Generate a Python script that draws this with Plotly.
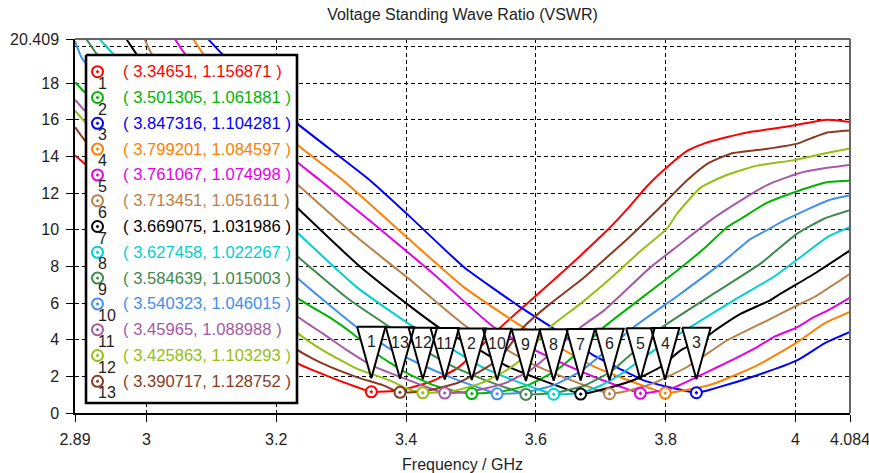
import plotly.graph_objects as go

# ---------------- axes ----------------
FREQ_TICKS = [2.89, 3, 3.2, 3.4, 3.6, 3.8, 4, 4.084]
FREQ_TICK_TEXT = ["2.89", "3", "3.2", "3.4", "3.6", "3.8", "4", "4.084"]
VSWR_TICKS = [0, 2, 4, 6, 8, 10, 12, 14, 16, 18, 20.409]
VSWR_TICK_TEXT = ["0", "2", "4", "6", "8", "10", "12", "14", "16", "18", "20.409"]
X_RANGE = [2.89, 4.084]
Y_RANGE = [0, 20.409]

# ---------------- markers (VSWR minimum of each sweep) ----------------
marker_ids = ["1", "2", "3", "4", "5", "6", "7", "8", "9", "10", "11", "12", "13"]
min_freq = [3.34651, 3.501305, 3.847316, 3.799201, 3.761067, 3.713451, 3.669075,
            3.627458, 3.584639, 3.540323, 3.45965, 3.425863, 3.390717]
min_vswr = [1.156871, 1.061881, 1.104281, 1.084597, 1.074998, 1.051611, 1.031986,
            1.022267, 1.015003, 1.046015, 1.088988, 1.103293, 1.128752]
colors = ["#ff0000", "#00b400", "#0000ff", "#ff8000", "#e600e6", "#b9804a", "#000000",
          "#00d0d0", "#3f8a4d", "#4090f0", "#a55aa5", "#94c010", "#8b3a20"]

# ---------------- sweep curves (minimum point added from the marker lists) ----------------
freq_1 = [2.89, 2.905, 3.0, 3.1, 3.2, 3.234, 3.283, 3.324, 3.39, 3.437, 3.478, 3.50, 3.54, 3.581,
          3.627, 3.669, 3.71, 3.74, 3.772, 3.805, 3.833, 3.859, 3.895, 3.926, 3.967, 4.003, 4.049, 4.084]
vswr_1 = [14.05, 13.6, 10.45, 7.1, 3.8, 2.69, 1.96, 1.42, 1.24, 1.69, 2.42, 3.1, 4.5, 5.8,
          7.24, 8.6, 9.97, 11.1, 12.4, 13.5, 14.3, 14.7, 15.06, 15.31, 15.52, 15.73, 16.0, 15.88]

freq_2 = [2.89, 2.905, 3.0, 3.1, 3.2, 3.234, 3.283, 3.319, 3.36, 3.40, 3.44, 3.475, 3.545, 3.59,
          3.63, 3.655, 3.705, 3.76, 3.818, 3.86, 3.895, 3.916, 3.955, 4.003, 4.05, 4.084]
vswr_2 = [18.05, 17.5, 14.25, 10.8, 7.4, 6.24, 5.2, 4.3, 3.1, 2.2, 1.55, 1.2, 1.15, 1.55,
          2.3, 3.0, 4.69, 6.2, 7.78, 9.0, 10.15, 10.6, 11.45, 12.1, 12.6, 12.68]

freq_3 = [3.06, 3.095, 3.116, 3.2, 3.234, 3.3447, 3.401, 3.489, 3.576, 3.62, 3.689, 3.73, 3.766,
          3.80, 3.825, 3.874, 3.941, 4.003, 4.044, 4.084]
vswr_3 = [21.6, 20.4, 19.62, 16.85, 15.75, 12.69, 10.88, 7.97, 5.78, 4.78, 3.15, 2.4, 1.78,
          1.45, 1.25, 1.33, 2.06, 2.88, 3.79, 4.42]

freq_4 = [3.04, 3.072, 3.087, 3.2, 3.234, 3.3034, 3.401, 3.489, 3.576, 3.64, 3.686, 3.735, 3.777,
          3.823, 3.874, 3.941, 4.003, 4.044, 4.084]
vswr_4 = [21.5, 20.4, 19.62, 15.76, 14.6, 12.69, 9.6, 6.87, 4.78, 3.5, 2.6, 1.88, 1.34,
          1.2, 1.6, 2.6, 3.87, 4.88, 5.51]

freq_5 = [3.01, 3.0437, 3.059, 3.2, 3.234, 3.268, 3.35, 3.442, 3.535, 3.60, 3.648, 3.697, 3.739,
          3.808, 3.88, 3.941, 3.967, 4.003, 4.029, 4.05, 4.084]
vswr_5 = [21.5, 20.4, 19.62, 14.8, 13.64, 12.69, 10.33, 7.6, 4.69, 3.4, 2.6, 1.87, 1.33,
          1.33, 2.51, 3.6, 4.15, 4.69, 5.24, 5.6, 6.3]

freq_6 = [2.96, 2.997, 3.0077, 3.1, 3.2, 3.2315, 3.324, 3.401, 3.494, 3.555, 3.60, 3.65, 3.691,
          3.74, 3.779, 3.833, 3.895, 3.957, 4.003, 4.029, 4.084]
vswr_6 = [21.7, 20.4, 19.62, 16.7, 13.5, 12.51, 9.6, 7.42, 4.69, 3.45, 2.58, 1.85, 1.31,
          1.2, 1.6, 2.51, 3.97, 5.06, 5.88, 6.33, 7.6]

freq_7 = [2.93, 2.969, 2.9846, 3.1, 3.2, 3.234, 3.324, 3.401, 3.45, 3.51, 3.556, 3.605, 3.647,
          3.71, 3.756, 3.792, 3.823, 3.859, 3.88, 3.916, 3.961, 3.977, 4.029, 4.084]
vswr_7 = [21.7, 20.4, 19.6, 15.7, 12.3, 11.15, 8.15, 5.97, 4.69, 3.5, 2.55, 1.85, 1.3,
          1.35, 1.87, 2.51, 3.42, 4.06, 4.6, 5.42, 6.15, 6.51, 7.6, 8.87]

freq_8 = [2.89, 2.928, 2.948, 3.1, 3.2, 3.234, 3.324, 3.412, 3.47, 3.515, 3.563, 3.605,
          3.67, 3.70, 3.73, 3.782, 3.813, 3.838, 3.905, 3.966, 4.008, 4.049, 4.084]
vswr_8 = [21.7, 20.4, 19.62, 14.4, 10.95, 9.79, 6.87, 4.69, 3.5, 2.55, 1.82, 1.28,
          1.1, 1.5, 2.1, 3.42, 4.15, 4.69, 6.15, 7.42, 8.51, 9.6, 10.15]

freq_9 = [2.89, 2.9074, 2.9229, 3.1, 3.2, 3.234, 3.314, 3.375, 3.425, 3.472, 3.52, 3.562,
          3.63, 3.675, 3.715, 3.74, 3.795, 3.874, 3.946, 4.003, 4.044, 4.084]
vswr_9 = [21.0, 20.4, 19.62, 13.3, 9.7, 8.51, 6.15, 4.69, 3.5, 2.54, 1.82, 1.28,
          1.1, 1.5, 2.25, 3.0, 4.69, 6.51, 8.15, 9.8, 10.6, 11.06]

freq_10 = [2.89, 2.9017, 3.0, 3.1, 3.2, 3.234, 3.324, 3.38, 3.427, 3.476, 3.518, 3.585, 3.63,
           3.67, 3.695, 3.751, 3.823, 3.885, 3.931, 3.957, 3.982, 4.018, 4.05, 4.084]
vswr_10 = [20.3, 19.3, 15.76, 12.2, 8.55, 7.33, 4.69, 3.4, 2.58, 1.85, 1.31, 1.13, 1.55,
           2.3, 3.0, 4.69, 6.51, 8.15, 9.5, 10.0, 10.5, 11.1, 11.6, 11.88]

freq_11 = [2.89, 2.905, 3.0, 3.1, 3.2, 3.234, 3.272, 3.31, 3.347, 3.396, 3.437, 3.50, 3.55,
           3.59, 3.615, 3.666, 3.705, 3.777, 3.82, 3.869, 3.916, 3.957, 4.003, 4.044, 4.084]
vswr_11 = [17.1, 16.5, 13.3, 9.9, 6.4, 5.24, 4.33, 3.4, 2.6, 1.9, 1.35, 1.17, 1.6,
           2.3, 3.0, 4.6, 5.6, 7.96, 9.15, 10.51, 11.6, 12.45, 13.06, 13.35, 13.53]

freq_12 = [2.89, 2.905, 3.0, 3.1, 3.2, 3.234, 3.272, 3.324, 3.375, 3.40, 3.47, 3.516, 3.556,
           3.58, 3.622, 3.669, 3.72, 3.76, 3.802, 3.818, 3.854, 3.895, 3.941, 3.998, 4.05, 4.084]
vswr_12 = [16.5, 15.9, 12.55, 9.0, 5.5, 4.33, 3.42, 2.42, 1.78, 1.35, 1.18, 1.63, 2.36,
           3.0, 4.69, 5.97, 7.5, 8.8, 10.06, 10.9, 12.3, 13.0, 13.5, 13.8, 14.2, 14.44]

freq_13 = [2.89, 2.905, 3.0, 3.1, 3.2, 3.234, 3.272, 3.324, 3.365, 3.43, 3.48, 3.52, 3.545,
           3.581, 3.62, 3.669, 3.70, 3.741, 3.756, 3.802, 3.833, 3.864, 3.90, 3.957, 4.003,
           4.029, 4.049, 4.084]
vswr_13 = [15.6, 14.88, 11.6, 8.1, 4.6, 3.42, 2.69, 1.96, 1.51, 1.2, 1.65, 2.4, 3.0,
           4.69, 5.9, 7.24, 8.2, 9.5, 10.0, 11.6, 12.7, 13.6, 14.15, 14.42, 14.7,
           15.06, 15.31, 15.42]

curves = [(freq_1, vswr_1), (freq_2, vswr_2), (freq_3, vswr_3), (freq_4, vswr_4),
          (freq_5, vswr_5), (freq_6, vswr_6), (freq_7, vswr_7), (freq_8, vswr_8),
          (freq_9, vswr_9), (freq_10, vswr_10), (freq_11, vswr_11), (freq_12, vswr_12),
          (freq_13, vswr_13)]

# ---------------- layout geometry (pixels) ----------------
W, H = 869, 473
M_L, M_R, M_T, M_B = 75, 19, 39, 60
PLOT_W = W - M_L - M_R
PLOT_H = H - M_T - M_B
PX_PER_GHZ = PLOT_W / (X_RANGE[1] - X_RANGE[0])
PX_PER_UNIT = PLOT_H / (Y_RANGE[1] - Y_RANGE[0])

FONT = "Liberation Sans, Arial, sans-serif"
TEXT_COL = "#1e1e1e"

fig = go.Figure()

# sweep curves
for i, (f, v) in enumerate(curves):
    pts = sorted(zip(f + [min_freq[i]], v + [min_vswr[i]]))
    fig.add_trace(go.Scatter(
        x=[p[0] for p in pts], y=[p[1] for p in pts], mode="lines",
        line=dict(color=colors[i], width=2, shape="spline", smoothing=0.5),
        hoverinfo="skip", showlegend=False))

# minimum markers on the curves
fig.add_trace(go.Scatter(
    x=min_freq, y=min_vswr, mode="markers",
    marker=dict(symbol="circle-dot", size=11, color="white",
                line=dict(color=colors, width=2)),
    hoverinfo="skip", showlegend=False))

# marker flags: downward triangles whose tip sits just above each minimum
TIP_GAP_PX, TRI_H_PX, TRI_HALF_W_PX = 13.5, 51.5, 14.2
tri_x, tri_y = [], []
for f, v in zip(min_freq, min_vswr):
    tip = v + TIP_GAP_PX / PX_PER_UNIT
    top = tip + TRI_H_PX / PX_PER_UNIT
    hw = TRI_HALF_W_PX / PX_PER_GHZ
    tri_x += [f - hw, f + hw, f, f - hw, None]
    tri_y += [top, top, tip, top, None]

fig.add_trace(go.Scatter(x=tri_x, y=tri_y, mode="lines", fill="toself",
                         fillcolor="white", line=dict(width=0, color="white"),
                         hoverinfo="skip", showlegend=False))
fig.add_trace(go.Scatter(x=tri_x, y=tri_y, mode="lines",
                         line=dict(width=2, color="black"),
                         hoverinfo="skip", showlegend=False))

annotations = []
for k, (f, v) in enumerate(zip(min_freq, min_vswr)):
    top = v + (TIP_GAP_PX + TRI_H_PX) / PX_PER_UNIT
    annotations.append(dict(
        x=f, y=top - 15 / PX_PER_UNIT, xref="x", yref="y", text=marker_ids[k],
        showarrow=False, xanchor="center", yanchor="middle",
        font=dict(family=FONT, size=16, color=TEXT_COL)))

# ---------------- marker table (overlay axes measured in pixels from plot corner) ----------------
BOX_L, BOX_R, BOX_T, BOX_B = 11, 222, 16, 364
ROW0, ROW_STEP = 32.7, 25.8
fig.add_trace(go.Scatter(
    x=[BOX_L, BOX_R, BOX_R, BOX_L, BOX_L], y=[BOX_T, BOX_T, BOX_B, BOX_B, BOX_T],
    xaxis="x2", yaxis="y2", mode="lines", fill="toself", fillcolor="white",
    line=dict(color="black", width=2.6), hoverinfo="skip", showlegend=False))

row_y = [ROW0 + ROW_STEP * k for k in range(len(marker_ids))]
fig.add_trace(go.Scatter(
    x=[22.5] * len(row_y), y=row_y, xaxis="x2", yaxis="y2", mode="markers",
    marker=dict(symbol="circle-dot", size=11, color="white",
                line=dict(color=colors, width=2)),
    hoverinfo="skip", showlegend=False))

for k, y in enumerate(row_y):
    annotations.append(dict(
        x=21, y=y + 11.6, xref="x2", yref="y2", text=marker_ids[k],
        showarrow=False, xanchor="left", yanchor="middle",
        font=dict(family=FONT, size=16, color=TEXT_COL)))
    annotations.append(dict(
        x=45.5, y=y, xref="x2", yref="y2",
        text=f"( {min_freq[k]}, {min_vswr[k]} )",
        showarrow=False, xanchor="left", yanchor="middle",
        font=dict(family=FONT, size=16.6, color=colors[k])))

axis_common = dict(
    ticks="outside", ticklen=7, tickcolor="black", tickwidth=1,
    showline=True, linecolor="black", linewidth=1.5,
    showgrid=True, gridcolor="black", gridwidth=1, griddash="4px,3px",
    zeroline=False, automargin=False, ticklabeloverflow="allow",
    tickfont=dict(family=FONT, size=16, color=TEXT_COL))

fig.update_layout(
    width=W, height=H,
    margin=dict(l=M_L, r=M_R, t=M_T, b=M_B, autoexpand=False),
    paper_bgcolor="white", plot_bgcolor="white",
    title=dict(text="Voltage Standing Wave Ratio (VSWR)", x=0.5, xanchor="center",
               xref="paper", y=1 - 14 / H, yref="container", yanchor="middle",
               font=dict(family=FONT, size=16, color=TEXT_COL)),
    xaxis=dict(range=X_RANGE, tickmode="array", tickvals=FREQ_TICKS,
               ticktext=FREQ_TICK_TEXT, ticklabelstandoff=4,
               title=dict(text="Frequency / GHz", standoff=12,
                          font=dict(family=FONT, size=16, color=TEXT_COL)),
               **axis_common),
    yaxis=dict(range=Y_RANGE, tickmode="array", tickvals=VSWR_TICKS,
               ticktext=VSWR_TICK_TEXT, ticklabelstandoff=4,
               minor=dict(tickmode="array", tickvals=[20], showgrid=True,
                          gridcolor="black", griddash="4px,3px", ticks=""),
               **axis_common),
    xaxis2=dict(overlaying="x", range=[0, PLOT_W], visible=False, fixedrange=True),
    yaxis2=dict(overlaying="y", range=[PLOT_H, 0], visible=False, fixedrange=True),
    annotations=annotations,
    shapes=[
        dict(type="line", xref="paper", yref="paper", x0=0, x1=1, y0=1, y1=1,
             line=dict(color="#666666", width=2)),
        dict(type="line", xref="paper", yref="paper", x0=1, x1=1, y0=0, y1=1,
             line=dict(color="#666666", width=2)),
    ],
    showlegend=False,
)

fig.write_html("out.html")
